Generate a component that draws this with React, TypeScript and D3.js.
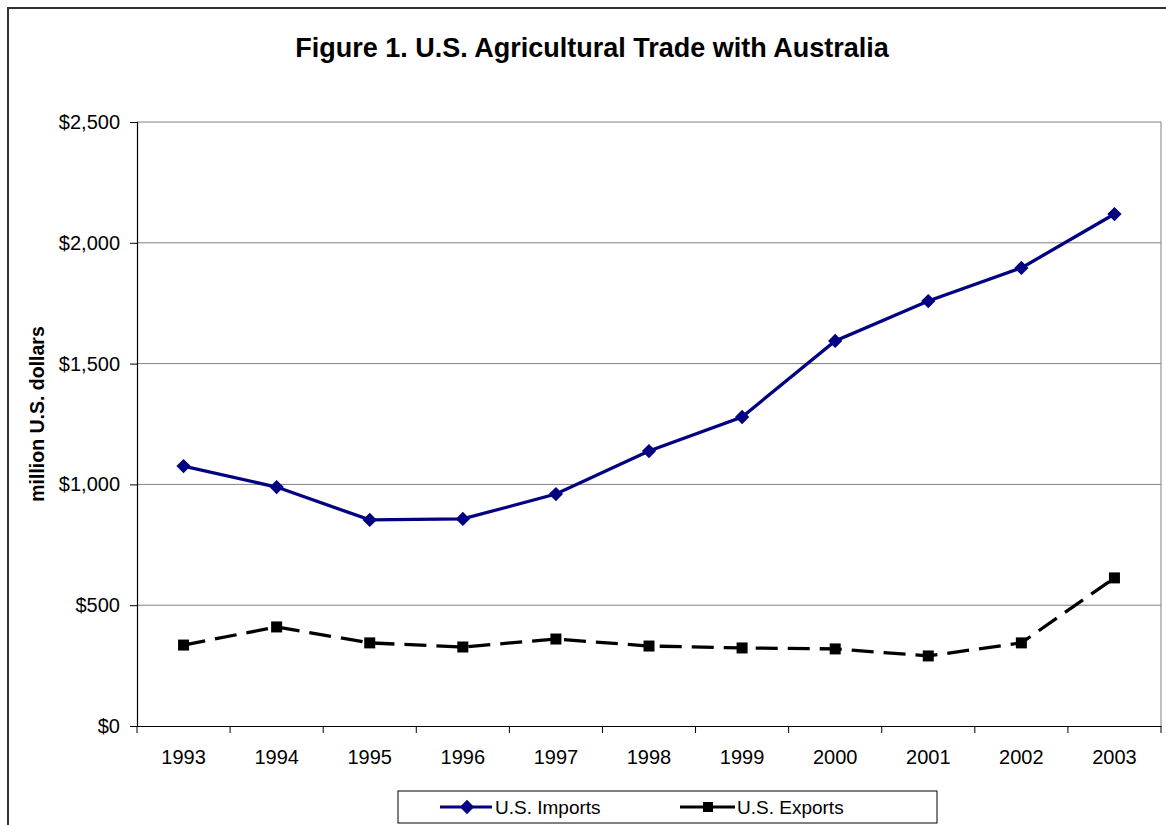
import React, { useEffect, useRef } from "react";
import * as d3 from "d3";

const years = ["1993", "1994", "1995", "1996", "1997", "1998", "1999", "2000", "2001", "2002", "2003"];
const imports = [1076, 989, 853, 857, 960, 1138, 1279, 1594, 1759, 1896, 2119];
const exports = [335, 410, 344, 327, 360, 331, 323, 319, 290, 344, 613];
const yTicks = [0, 500, 1000, 1500, 2000, 2500];
const title = "Figure 1. U.S. Agricultural Trade with Australia";
const yLabel = "million U.S. dollars";
const seriesNames = ["U.S. Imports", "U.S. Exports"];

const W = 1166, H = 825;
const left = 137, right = 1161, top = 122, bottom = 726;
const FONT = "Liberation Sans, Arial, sans-serif";

export default function App() {
  const ref = useRef<SVGSVGElement | null>(null);
  useEffect(() => {
    const svg = d3.select(ref.current);
    svg.selectAll("*").remove();
    svg.append("rect").attr("width", W).attr("height", H).attr("fill", "#fff");
    // outer border
    svg.append("rect").attr("x", 8).attr("y", 8).attr("width", W + 10).attr("height", H + 10)
      .attr("fill", "none").attr("stroke", "#333").attr("stroke-width", 2);

    const x = d3.scaleBand().domain(years).range([left, right]).padding(0);
    const y = d3.scaleLinear().domain([0, 2500]).range([bottom, top]);

    // title
    svg.append("text").attr("x", 592).attr("y", 57).attr("text-anchor", "middle")
      .attr("font-family", FONT).attr("font-weight", "bold").attr("font-size", 27).text(title);

    // gridlines
    svg.append("g").selectAll("line").data(yTicks.filter(t => t > 0)).join("line")
      .attr("x1", left).attr("x2", right).attr("y1", d => y(d)).attr("y2", d => y(d))
      .attr("stroke", "#808080").attr("stroke-width", 1);
    // right border
    svg.append("line").attr("x1", right).attr("x2", right).attr("y1", top).attr("y2", bottom)
      .attr("stroke", "#808080").attr("stroke-width", 1);

    // y axis
    const ya = svg.append("g").attr("transform", `translate(${left},0)`)
      .call(d3.axisLeft(y).tickValues(yTicks).tickSize(7).tickPadding(10)
        .tickFormat(d => "$" + d3.format(",")(d as number)));
    ya.select(".domain").attr("stroke", "#000").attr("stroke-width", 1.2);
    ya.selectAll("line").attr("stroke", "#000");
    ya.selectAll("text").attr("font-family", FONT).attr("font-size", 20).attr("fill", "#000");

    // x axis
    const xa = svg.append("g").attr("transform", `translate(0,${bottom})`)
      .call(d3.axisBottom(x).tickSize(0).tickPadding(24));
    xa.select(".domain").attr("stroke", "#000").attr("stroke-width", 1.2);
    xa.selectAll("text").attr("font-family", FONT).attr("font-size", 20).attr("fill", "#000");
    const bounds = years.map(d => x(d) as number).concat([right]);
    svg.append("g").selectAll("line").data(bounds).join("line")
      .attr("x1", d => d).attr("x2", d => d).attr("y1", bottom).attr("y2", bottom + 7)
      .attr("stroke", "#000");

    // y label
    svg.append("text").attr("transform", `translate(44,414) rotate(-90)`).attr("text-anchor", "middle")
      .attr("font-family", FONT).attr("font-weight", "bold").attr("font-size", 19.5).text(yLabel);

    const cx = (d: string) => (x(d) as number) + x.bandwidth() / 2;

    // imports
    const lineI = d3.line<number>().x((_, i) => cx(years[i])).y(d => y(d));
    svg.append("path").datum(imports).attr("d", lineI).attr("fill", "none")
      .attr("stroke", "#000080").attr("stroke-width", 3.3);
    const diamond = d3.symbol().type(d3.symbolDiamond2).size(130);
    svg.append("g").selectAll("path").data(imports).join("path")
      .attr("d", diamond as any)
      .attr("transform", (d, i) => `translate(${cx(years[i])},${y(d)})`)
      .attr("fill", "#000080");

    // exports
    svg.append("path").datum(exports).attr("d", lineI).attr("fill", "none")
      .attr("stroke", "#000").attr("stroke-width", 3.3).attr("stroke-dasharray", "22,10");
    svg.append("g").selectAll("rect").data(exports).join("rect")
      .attr("x", (d, i) => cx(years[i]) - 5.5).attr("y", d => y(d) - 5.5)
      .attr("width", 11).attr("height", 11).attr("fill", "#000");

    // legend
    const lg = svg.append("g");
    lg.append("rect").attr("x", 398).attr("y", 791).attr("width", 539).attr("height", 32)
      .attr("fill", "#fff").attr("stroke", "#000").attr("stroke-width", 1);
    const ly = 807;
    lg.append("line").attr("x1", 440).attr("x2", 492).attr("y1", ly).attr("y2", ly)
      .attr("stroke", "#000080").attr("stroke-width", 3);
    lg.append("path").attr("d", diamond as any).attr("transform", `translate(467,${ly})`)
      .attr("fill", "#000080");
    lg.append("text").attr("x", 495).attr("y", ly + 7).attr("font-family", FONT).attr("font-size", 19)
      .text(seriesNames[0]);
    lg.append("line").attr("x1", 680).attr("x2", 735).attr("y1", ly).attr("y2", ly)
      .attr("stroke", "#000").attr("stroke-width", 3);
    lg.append("rect").attr("x", 703).attr("y", ly - 5).attr("width", 10).attr("height", 10).attr("fill", "#000");
    lg.append("text").attr("x", 737).attr("y", ly + 7).attr("font-family", FONT).attr("font-size", 19)
      .text(seriesNames[1]);
  }, []);
  return (
    <svg ref={ref} width={W} height={H}
      style={{ position: "absolute", left: 0, top: 0, display: "block" }} />
  );
}
